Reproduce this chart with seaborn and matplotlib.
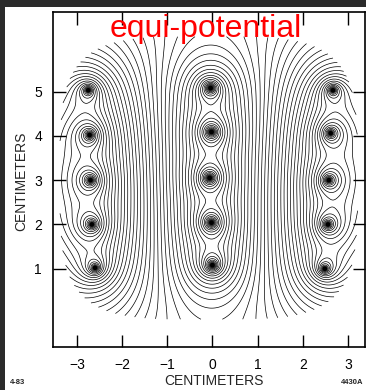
import numpy as np
import matplotlib
matplotlib.use("Agg")
import matplotlib.pyplot as plt
from matplotlib.patches import Rectangle
import seaborn as sns

# wire positions in cm (three columns of five wires)
left_x = [-2.75, -2.72, -2.70, -2.67, -2.60]
left_y = [5.03, 4.02, 3.00, 2.00, 1.02]
mid_x = [-0.04, -0.02, -0.06, -0.02, 0.00]
mid_y = [5.08, 4.09, 3.05, 2.04, 1.08]
right_x = [2.67, 2.62, 2.58, 2.56, 2.49]
right_y = [5.03, 4.06, 3.00, 2.00, 1.00]
charge_mid = 1.0
charge_side = -0.85
level_step = 0.22

x_ticks = [-3, -2, -1, 0, 1, 2, 3]
x_ticklabels = ['\u22123', '\u22122', '\u22121', '0', '1', '2', '3']
y_ticks = [1, 2, 3, 4, 5]
y_ticklabels = ['1', '2', '3', '4', '5']

sns.set_theme(style="ticks")
plt.rcParams['font.family'] = ['Liberation Sans', 'DejaVu Sans']

# potential of the line charges (2D, log)
gx = np.linspace(-3.4, 3.25, 800)
gy = np.linspace(-0.25, 6.35, 800)
X, Y = np.meshgrid(gx, gy)
phi = np.zeros_like(X)
for xs, ys, q in [(left_x, left_y, charge_side), (mid_x, mid_y, charge_mid), (right_x, right_y, charge_side)]:
    for cx, cy in zip(xs, ys):
        r = np.hypot(X - cx, Y - cy)
        phi += -q * np.log(np.maximum(r, 0.015))

# mapped area has rounded corners
inside = ((X + 0.08) / 3.3) ** 4 + ((Y - 3.05) / 3.2) ** 4 <= 1
phi = np.ma.masked_where(~inside, phi)

levels = np.arange(-15, 15, level_step) + level_step / 2

fig = plt.figure(figsize=(3.66, 3.9), dpi=100)
ax = fig.add_axes([53 / 366, 1 - 347 / 390, (365 - 53) / 366, (347 - 12) / 390])
ax.contour(X, Y, phi, levels=levels, colors='black', linewidths=0.5, linestyles='solid')

wires_x = left_x + mid_x + right_x
wires_y = left_y + mid_y + right_y
sns.scatterplot(x=wires_x, y=wires_y, color='black', s=10, edgecolor='none', ax=ax)

ax.set_xlim(-3.53, 3.38)
ax.set_ylim(-0.77, 6.80)
ax.set_xticks(x_ticks)
ax.set_xticklabels(x_ticklabels)
ax.set_yticks(y_ticks)
ax.set_yticklabels(y_ticklabels)
ax.tick_params(direction='in', length=9, width=1, top=True, right=True, pad=8,
               labelsize=10, colors='black')
for s in ax.spines.values():
    s.set_color('black')
    s.set_linewidth(1.2)

ax.set_xlabel('CENTIMETERS', fontsize=10)
ax.set_ylabel('CENTIMETERS', fontsize=10)
ax.xaxis.set_label_coords(214 / 366, 1 - 374 / 390, transform=fig.transFigure)
ax.yaxis.set_label_coords(28 / 366, 1 - 181 / 390, transform=fig.transFigure)

ax.text(0.49, 0.995, 'equi-potential', transform=ax.transAxes, color='red',
        fontsize=23, ha='center', va='top')

fig.text(18 / 366, 1 - 383 / 390, '4-83', fontsize=5.5, fontweight='bold', ha='center', va='center')
fig.text(352 / 366, 1 - 383 / 390, '4430A', fontsize=5.5, fontweight='bold', ha='center', va='center')

# dark screenshot border (top and left)
fig.patches.append(Rectangle((0, 1 - 7 / 390), 1, 7 / 390, transform=fig.transFigure,
                             facecolor='#2b2b2b', edgecolor='none'))
fig.patches.append(Rectangle((0, 0), 5 / 366, 1, transform=fig.transFigure,
                             facecolor='#2b2b2b', edgecolor='none'))

fig.savefig('out.png', dpi=100)
